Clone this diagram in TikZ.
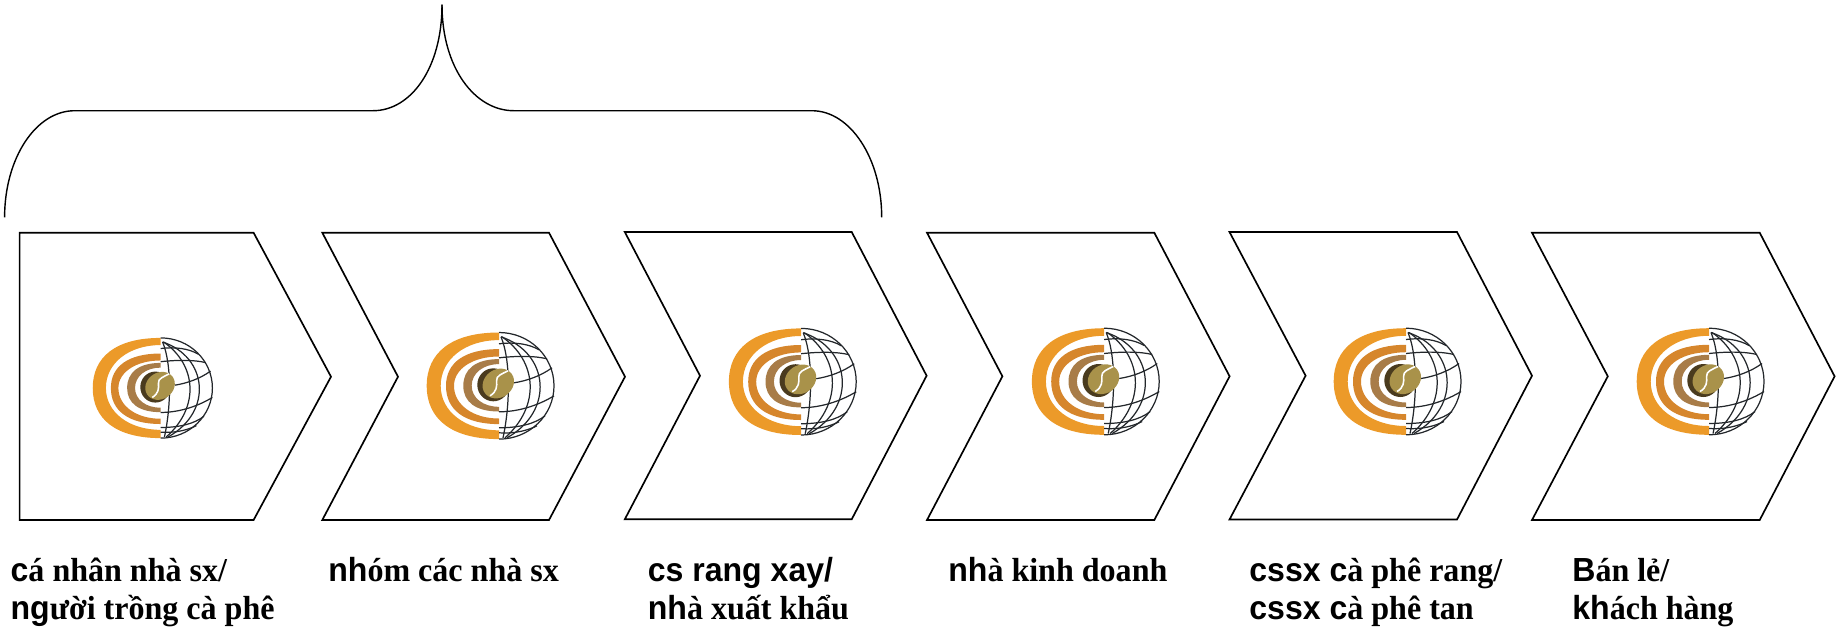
\documentclass[tikz,border=0pt]{standalone}
\usepackage{fontspec}
\setmainfont{Liberation Serif}[FakeStretch=0.96]
\newfontfamily\hdfont{Liberation Sans}[FakeStretch=0.96]
\newcommand{\hd}[1]{{\hdfont\bfseries #1}}
\definecolor{logoA}{HTML}{EC9A29}
\definecolor{logoB}{HTML}{D6862C}
\definecolor{logoC}{HTML}{A87C48}
\definecolor{beanD}{HTML}{4A3B1E}
\definecolor{beanL}{HTML}{A9924A}
\definecolor{gridline}{HTML}{23272B}
% colour, outer top/bottom/left, inner top/bottom/left
\newcommand{\halfring}[7]{
    \fill[#1] (0,#2) .. controls (-.66*#4,#2) and (-#4,.62*#2) .. (-#4,0)
        .. controls (-#4,-.62*#3) and (-.66*#4,-#3) .. (0,-#3)
        -- (0,-#6) .. controls (-.58*#7,-#6) and (-#7,-.58*#6) .. (-#7,0)
        .. controls (-#7,.58*#5) and (-.58*#7,#5) .. (0,#5) -- cycle;
}
\tikzset{
    logomark/.pic={
        \halfring{logoA}{53.3}{53.3}{72.3}{45.7}{44.5}{58.3}
        \halfring{logoB}{36.7}{38.3}{53}{29.3}{32.7}{45}
        \halfring{logoC}{26.7}{25.7}{35.7}{21.7}{21}{27.3}
        \draw[globe] (0,53.3) arc[start angle=90,end angle=-90,x radius=55,y radius=53.3];
        \draw[globe] (2,49) .. controls (12,25) and (11,-20) .. (4,-52);
        \draw[globe] (3,49) .. controls (38,25) and (42,-20) .. (6,-52);
        \draw[globe] (2,49) .. controls (50,33) and (56,-25) .. (8,-52);
        \draw[globe] (0,42) .. controls (15,44) and (30,42) .. (40,36);
        \draw[globe] (0,28) .. controls (18,30) and (36,30) .. (48,27);
        \draw[globe] (15,3) .. controls (28,5) and (42,10) .. (53,18);
        \draw[globe] (0,-26) .. controls (22,-26) and (42,-18) .. (55,-10);
        \draw[globe] (0,-42) .. controls (20,-42) and (36,-38) .. (46,-30);
        \draw[globe] (0,-47) .. controls (15,-48) and (28,-45) .. (38,-40);
        \fill[beanD] (-5.7,1) ellipse[x radius=16,y radius=16.5];
        \fill[beanL, rotate around={35:(-0.7,2.3)}] (-0.7,2.3) ellipse[x radius=16.5,y radius=14];
        \draw[white, line width=0.9pt] (9,15) .. controls (3,12) and (-3,10) .. (-2.4,5)
            .. controls (-2,0) and (-2,-6) .. (-9,-10);
    }
}
\begin{document}
\begin{tikzpicture}[
        x=0.02cm,
        y=0.02cm,
        globe/.style={draw=gridline, line width=0.7pt},
        stagebox/.style={draw=black, line width=0.95pt},
        bracket/.style={draw=black, line width=0.8pt},
        label/.style={inner sep=0pt, anchor=base west, align=left,
            font=\bfseries\fontsize{19}{21.5}\selectfont}
    ]
    \useasboundingbox (0,0) rectangle (1842,-627);
    % first box has a flat left side
    \draw[stagebox] (19.6,-232.7) -- (253.6,-232.7) -- (331,-376.7) -- (253.6,-520) -- (19.6,-520) -- cycle;
    \foreach \xa/\xb/\xc/\xd/\ya/\yb/\yc in {
        322.3/398/549/625/232.7/376.7/520,
        624.8/700/851.7/926.6/232/375.7/519.3,
        927/1002.4/1154.3/1229.6/232.7/376.3/520,
        1229.5/1305.6/1457/1532/232/375.7/519.5,
        1532/1607.8/1759.7/1834.6/232.7/376.3/520} {
        \draw[stagebox] (\xa,-\ya) -- (\xc,-\ya) -- (\xd,-\yb) -- (\xc,-\yc) -- (\xa,-\yc) -- (\xb,-\yb) -- cycle;
    }
    \foreach \i/\x/\y/\s in {1/160.7/388/0.94, 2/499/385.8/1.0, 3/801.2/381.7/1.0,
        4/1104.2/381.5/1.0, 5/1406/381.5/1.0, 6/1709/381.5/1.0} {
        \pic[scale=\s] (logo\i) at (\x,-\y) {logomark};
    }
    % brace above the first three boxes
    \coordinate (brL) at (4.6,-217.3);
    \coordinate (brR) at (881.7,-217.3);
    \coordinate (brT) at (442,-4.7);
    \draw[bracket] (brL) .. controls (4.6,-158) and (36,-110.7) .. (74.6,-110.7) -- (373,-110.7)
        .. controls (411,-110.7) and (442,-68) .. (brT);
    \draw[bracket] (brR) .. controls (881.7,-158) and (850,-110.7) .. (812,-110.7) -- (513.8,-110.7)
        .. controls (475,-110.7) and (442,-68) .. (brT);
    \node[label] (lab1) at (10.3,-619.3) {\hd{c}á nhân nhà sx/\\\hd{ng}ười trồng cà phê};
    \node[label] (lab2) at (328,-581.7) {\hd{nh}óm các nhà sx};
    \node[label] (lab3) at (647.5,-619.3) {\hd{cs rang xay/}\\\hd{nh}à xuất khẩu};
    \node[label] (lab4) at (948,-581.7) {\hd{nh}à kinh doanh};
    \node[label] (lab5) at (1249,-619.3) {\hd{cssx c}à phê rang/\\\hd{cssx c}à phê tan};
    \node[label] (lab6) at (1572,-619.3) {\hd{B}án lẻ/\\\hd{kh}ách hàng};
\end{tikzpicture}
\end{document}
